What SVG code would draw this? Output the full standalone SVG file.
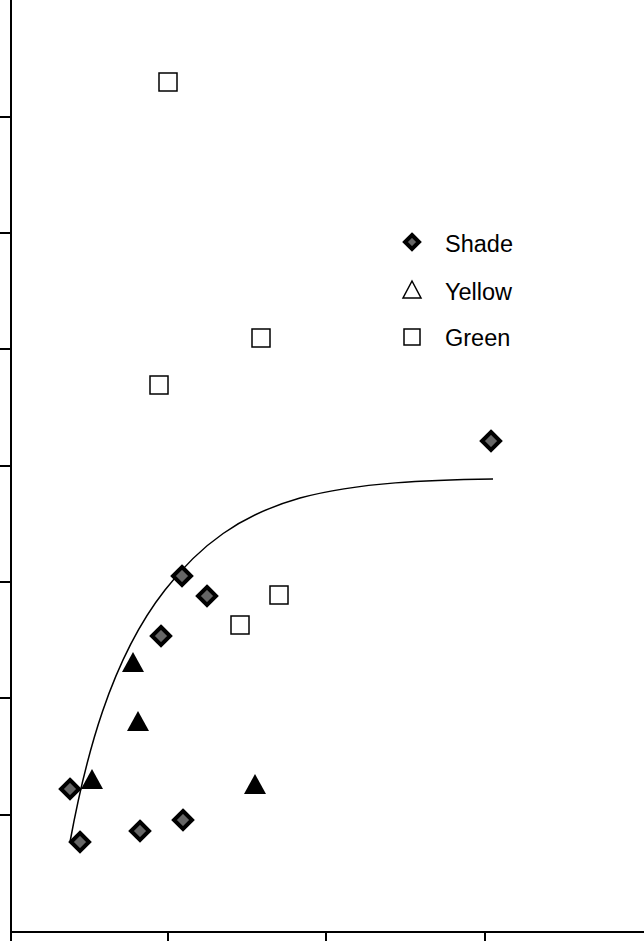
<svg xmlns="http://www.w3.org/2000/svg" width="644" height="941" viewBox="0 0 644 941">
<style>
.ax{stroke:#000;stroke-width:2;fill:none}
.d{fill:#666;stroke:#000;stroke-width:4}
.t{fill:#000}
.s{fill:#fff;stroke:#000;stroke-width:1.5}
.lt{font-family:"Liberation Sans",Arial,sans-serif;font-size:23.5px;fill:#000}
</style>
<defs>
<path id="dm" class="d" d="M0,-9 L9,0 L0,9 L-9,0Z"/>
<path id="tr" class="t" d="M0,-11 L11,9 L-11,9Z"/>
<rect id="sq" class="s" x="-9" y="-9" width="18" height="18"/>
</defs>
<g id="axes">
<path class="ax" d="M11,0 V932 H644"/>
<path class="ax" d="M0,117 H11 M0,233 H11 M0,349 H11 M0,466 H11 M0,582 H11 M0,698 H11 M0,815 H11 M11,932 V941 M168,932 V941 M326,932 V941 M485,932 V941"/>
</g>
<g id="connectors">
<path fill="none" stroke="#000" stroke-width="1.5" d="M70,842 C85,760 110,660 165,590 C200,545 240,515 300,498 C360,482 430,480 493,479"/>
</g>
<g id="shade">
<use href="#dm" x="70" y="789"/><use href="#dm" x="80" y="842"/><use href="#dm" x="140" y="831"/><use href="#dm" x="183" y="820"/><use href="#dm" x="161" y="636"/><use href="#dm" x="182" y="576"/><use href="#dm" x="207" y="596"/><use href="#dm" x="491" y="441"/>
</g>
<g id="yellow">
<use href="#tr" x="92" y="780"/><use href="#tr" x="133" y="663"/><use href="#tr" x="138" y="722"/><use href="#tr" x="255" y="785"/>
</g>
<g id="green">
<use href="#sq" x="168" y="82"/><use href="#sq" x="261" y="338"/><use href="#sq" x="159" y="385"/><use href="#sq" x="279" y="595"/><use href="#sq" x="240" y="625"/>
</g>
<g id="legend">
<path class="d" d="M412,235 L419,242 L412,249 L405,242Z"/>
<path d="M412,281 L421,298 L403,298Z" fill="#fff" stroke="#000" stroke-width="1.5"/>
<rect class="s" x="404" y="329" width="16" height="16"/>
<text class="lt" x="445" y="252">Shade</text>
<text class="lt" x="445" y="300">Yellow</text>
<text class="lt" x="445" y="346">Green</text>
</g>
</svg>
